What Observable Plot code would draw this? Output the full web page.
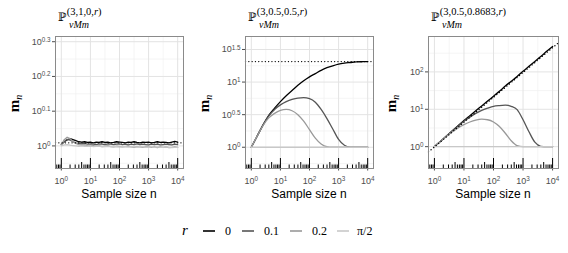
<!DOCTYPE html>
<html><head><meta charset="utf-8">
<script src="https://cdn.jsdelivr.net/npm/d3@7"></script>
<script src="https://cdn.jsdelivr.net/npm/@observablehq/plot@0.6"></script>
<style>
body{margin:0;background:#fff;}
#root{position:relative;width:568px;height:253px;overflow:hidden;background:#fff;}
#root svg.panel{position:absolute;top:0;}
#overlay{position:absolute;left:0;top:0;pointer-events:none;}
</style></head><body><div id="root"></div>
<script>
// ---- data (log10 exponents) ----
const rLabels = ["0", "0.1", "0.2", "π/2"];
const rColors = ["#000000", "#555555", "#999999", "#c8c8c8"];

// sample-size grid, log10(n)
const nExpNoisy = [0,0.1,0.2,0.3,0.4,0.5,0.6,0.7,0.8,0.9,1,1.1,1.2,1.3,1.4,1.5,1.6,1.7,1.8,1.9,2,2.1,2.2,2.3,2.4,2.5,2.6,2.7,2.8,2.9,3,3.1,3.2,3.3,3.4,3.5,3.6,3.7,3.8,3.9,4];
const nExpSmooth = [0,0.2,0.4,0.6,0.8,1,1.2,1.4,1.6,1.8,2,2.2,2.4,2.6,2.8,3,3.2,3.4,3.6,3.8,4];

// panel 1: P(3,1,0,r) — log10(m_n)
const p1_r0  = [0.005,0.012,0.017,0.021,0.018,0.015,0.012,0.011,0.012,0.010,0.011,0.009,0.011,0.010,0.012,0.010,0.011,0.009,0.010,0.012,0.011,0.010,0.009,0.011,0.010,0.012,0.010,0.009,0.011,0.010,0.011,0.009,0.010,0.012,0.010,0.011,0.010,0.009,0.011,0.013,0.011];
const p1_r01 = [0.004,0.012,0.019,0.017,0.012,0.009,0.007,0.006,0.007,0.005,0.006,0.005,0.004,0.006,0.005,0.004,0.006,0.005,0.004,0.005,0.006,0.004,0.005,0.003,0.005,0.004,0.006,0.004,0.005,0.004,0.003,0.005,0.004,0.005,0.003,0.004,0.005,0.004,0.003,0.005,0.004];
const p1_r02 = [0.003,0.018,0.025,0.021,0.013,0.007,0.004,0.002,0.003,0.001,0.000,0.001,-0.001,0.000,-0.002,-0.001,0.000,-0.002,-0.003,-0.001,-0.002,-0.003,-0.002,-0.001,-0.003,-0.004,-0.002,-0.003,-0.004,-0.003,-0.002,-0.004,-0.003,-0.005,-0.003,-0.004,-0.003,-0.005,-0.004,-0.003,-0.004];
const p1_rpi = [0.000,0.003,0.004,0.002,0.001,0.000,-0.001,0.000,-0.001,-0.001,0.000,-0.002,-0.001,-0.001,-0.002,-0.001,-0.002,-0.002,-0.001,-0.002,-0.003,-0.002,-0.002,-0.003,-0.002,-0.003,-0.003,-0.002,-0.003,-0.004,-0.003,-0.003,-0.004,-0.003,-0.004,-0.004,-0.003,-0.004,-0.005,-0.004,-0.004];
const p1RefY = [0.009, 0.009];

// panel 2: P(3,0.5,0.5,r)
const p2_r0  = [0,0.17,0.34,0.49,0.60,0.70,0.79,0.87,0.95,1.02,1.08,1.13,1.18,1.22,1.25,1.275,1.29,1.30,1.31,1.312,1.313];
const p2_r01 = [0,0.17,0.34,0.48,0.58,0.65,0.70,0.735,0.755,0.76,0.745,0.69,0.58,0.44,0.28,0.12,0.03,0.003,0,0,0];
const p2_r02 = [0,0.17,0.33,0.45,0.52,0.565,0.58,0.56,0.50,0.40,0.27,0.14,0.05,0.008,0,0,0,0,0,0,0];
const p2_rpi = [0,0,0,0,0,0,0,0,0,0,0,0,0,0,0,0,0,0,0,0,0];
const p2RefY = [1.315, 1.315];

// panel 3: P(3,0.5,0.8683,r)
const p3_r0  = [0,0.14,0.28,0.42,0.56,0.70,0.83,0.96,1.09,1.22,1.35,1.48,1.62,1.75,1.88,2.02,2.15,2.28,2.41,2.55,2.68];
const p3_r01 = [0,0.14,0.28,0.42,0.55,0.68,0.79,0.89,0.97,1.03,1.08,1.10,1.11,1.08,0.99,0.72,0.40,0.12,0.01,0,0];
const p3_r02 = [0,0.14,0.27,0.39,0.50,0.59,0.66,0.71,0.735,0.72,0.66,0.54,0.36,0.16,0.03,0,0,0,0,0,0];
const p3_rpi = [0,0,0,0,0,0,0,0,0,0,0,0,0,0,0,0,0,0,0,0,0];
const p3RefY = [-0.14, 2.78];

const refX = [-0.2, 4.2];

// axis tick exponents
const xTickExp = [0,1,2,3,4];
const xMinorExp = [0.5,1.5,2.5,3.5];
const p1YTicks = [0,0.1,0.2,0.3], p1YMinor = [-0.05,0.05,0.15,0.25];
const p2YTicks = [0,0.5,1,1.5],   p2YMinor = [-0.25,0.25,0.75,1.25];
const p3YTicks = [0,1,2],         p3YMinor = [-0.5,0.5,1.5,2.5];
const titleParams = ["3,1,0", "3,0.5,0.5", "3,0.5,0.8683"];
const logTickDecades = [-1,0,1,2,3,4];
const logTickMult = [1,2,3,4,5,6,7,8,9];

// ---- layout ----
const H = 205, MT = 36, MB = 37, PH = H - MT - MB;
const xDomExp = [-0.2, 4.2];
const panels = [
  {left:0,   width:190, ml:55, mr:7,  nExp:nExpNoisy,  series:[p1_r0,p1_r01,p1_r02,p1_rpi], yDomExp:[-0.065,0.315], yTicks:p1YTicks, yMinor:p1YMinor, refY:p1RefY, curve:"linear"},
  {left:190, width:190, ml:55, mr:7,  nExp:nExpSmooth, series:[p2_r0,p2_r01,p2_r02,p2_rpi], yDomExp:[-0.326,1.699], yTicks:p2YTicks, yMinor:p2YMinor, refY:p2RefY, curve:"monotone-x"},
  {left:375, width:193, ml:53, mr:10, nExp:nExpSmooth, series:[p3_r0,p3_r01,p3_r02,p3_rpi], yDomExp:[-0.584,2.947], yTicks:p3YTicks, yMinor:p3YMinor, refY:p3RefY, curve:"monotone-x"}
];

const p10 = e => Math.pow(10, e);
const expFmt = d => "10^" + (+Math.log10(d).toFixed(3));
const xDom = xDomExp.map(p10);

// annotation log ticks
const logTicks = [];
for (const k of logTickDecades) for (const m of logTickMult) {
  const v = m * Math.pow(10, k);
  if (v >= xDom[0] && v <= xDom[1]) logTicks.push({v, kind: m === 1 ? "long" : m === 5 ? "mid" : "short"});
}

const root = document.getElementById("root");

function supify(svg) {
  const ns = "http://www.w3.org/2000/svg";
  svg.querySelectorAll("text").forEach(t => {
    const m = /^10\^(.+)$/.exec(t.textContent);
    if (!m) return;
    t.textContent = "";
    const a = document.createElementNS(ns, "tspan"); a.textContent = "10";
    const b = document.createElementNS(ns, "tspan"); b.textContent = m[1];
    b.setAttribute("dy", "-0.45em"); b.setAttribute("font-size", "70%");
    t.append(a, b);
  });
}

panels.forEach(p => {
  const rows = [];
  p.series.forEach((vals, si) => vals.forEach((v, i) => rows.push({n: p10(p.nExp[i]), m: p10(v), r: rLabels[si]})));
  const ref = refX.map((e, i) => ({n: p10(e), m: p10(p.refY[i])}));
  const yDom = p.yDomExp.map(p10);
  const svg = Plot.plot({
    width: p.width, height: H,
    marginTop: MT, marginBottom: MB, marginLeft: p.ml, marginRight: p.mr,
    style: {fontFamily: "'Liberation Sans', Arial, sans-serif", fontSize: "9px", color: "#4d4d4d", background: "transparent", overflow: "visible"},
    x: {type: "log", domain: xDom, ticks: xTickExp.map(p10), tickFormat: expFmt, tickSize: 2.5, tickPadding: 6.5, label: null},
    y: {type: "log", domain: yDom, ticks: p.yTicks.map(p10), tickFormat: expFmt, tickSize: 3, tickPadding: 2, label: null},
    color: {domain: rLabels, range: rColors},
    marks: [
      Plot.ruleX(xMinorExp.map(p10), {stroke: "#f1f1f1", strokeWidth: 0.7}),
      Plot.ruleY(p.yMinor.map(p10), {stroke: "#f1f1f1", strokeWidth: 0.7}),
      Plot.ruleX(xTickExp.map(p10), {stroke: "#e3e3e3", strokeWidth: 1}),
      Plot.ruleY(p.yTicks.map(p10), {stroke: "#e3e3e3", strokeWidth: 1}),
      Plot.line(rows, {x: "n", y: "m", z: "r", stroke: "r", strokeWidth: 1.3, curve: p.curve}),
      Plot.line(ref, {x: "n", y: "m", stroke: "#000", strokeWidth: 1.3, strokeDasharray: "0.1,3.2", strokeLinecap: "round"}),
      Plot.ruleX(logTicks.filter(d => d.kind === "long"), {x: "v", insetTop: PH - 10, insetBottom: -0.5, stroke: "#000", strokeWidth: 1}),
      Plot.ruleX(logTicks.filter(d => d.kind === "mid"), {x: "v", insetTop: PH - 6, stroke: "#000", strokeWidth: 1}),
      Plot.ruleX(logTicks.filter(d => d.kind === "short"), {x: "v", insetTop: PH - 3.5, stroke: "#000", strokeWidth: 1}),
      Plot.ruleY([yDom[0]], {stroke: "#000", strokeWidth: 1.2}),
      Plot.frame({stroke: "#8a8a8a", strokeWidth: 1})
    ]
  });
  supify(svg);
  svg.classList.add("panel");
  svg.style.left = p.left + "px";
  root.appendChild(svg);
});

// ---- overlay: titles, axis titles, legend ----
const ov = d3.create("svg").attr("id", "overlay").attr("width", 568).attr("height", 253);
const serif = "'Liberation Serif', 'Times New Roman', serif";
panels.forEach((p, i) => {
  const px = p.left + p.ml;
  const pw = p.width - p.ml - p.mr;
  ov.append("text").attr("x", px + 3).attr("y", 20.7).attr("font-family", "'DejaVu Serif', serif").attr("font-size", 11.5).attr("fill", "#000").text("ℙ");
  const sup = ov.append("text").attr("x", px + 11.8).attr("y", 14.6).attr("font-family", serif).attr("font-size", 10.5).attr("fill", "#000");
  sup.append("tspan").text("(" + titleParams[i] + ",");
  sup.append("tspan").attr("font-style", "italic").text("r");
  sup.append("tspan").text(")");
  ov.append("text").attr("x", px + 14).attr("y", 27.6).attr("font-family", serif).attr("font-style", "italic").attr("font-size", 10).attr("fill", "#000").text("vMm");
  // y title
  const yl = ov.append("text").attr("transform", `translate(${p.left + (i === 2 ? 21 : 18.5)},103.5) rotate(-90)`).attr("text-anchor", "middle").attr("font-family", serif).attr("fill", "#000");
  yl.append("tspan").attr("font-weight", "bold").attr("font-size", 15).text("m");
  yl.append("tspan").attr("font-style", "italic").attr("font-size", 10).attr("dy", 3).text("n");
  // x title
  ov.append("text").attr("x", px + pw / 2).attr("y", 198).attr("text-anchor", "middle").attr("font-family", "'Liberation Sans', Arial, sans-serif").attr("font-size", 12).attr("fill", "#000").text("Sample size n");
});
// legend
ov.append("text").attr("x", 182).attr("y", 234.5).attr("font-family", serif).attr("font-style", "italic").attr("font-size", 15).attr("fill", "#000").text("r");
const keyX = [203, 242, 290, 337];
const labX = [225, 264, 312, 357];
rLabels.forEach((lab, i) => {
  ov.append("line").attr("x1", keyX[i]).attr("x2", keyX[i] + 12).attr("y1", 231).attr("y2", 231).attr("stroke", rColors[i]).attr("stroke-width", 1.6);
  ov.append("text").attr("x", labX[i]).attr("y", 235).attr("font-family", serif).attr("font-size", 12).attr("fill", "#000").text(lab);
});
root.appendChild(ov.node());
</script></body></html>
